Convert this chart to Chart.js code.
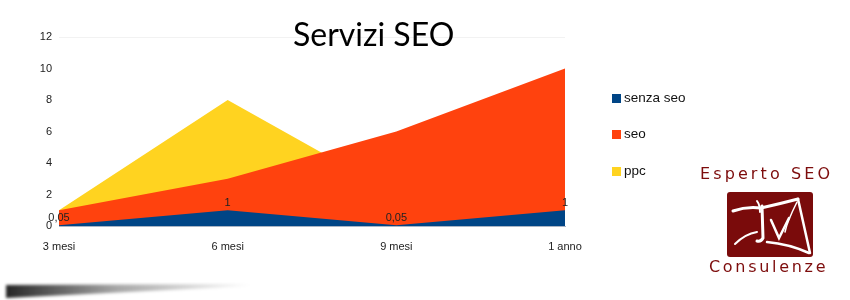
<!DOCTYPE html>
<html>
<head>
<meta charset="utf-8">
<script src="https://cdn.jsdelivr.net/npm/chart.js@4/dist/chart.umd.min.js"></script>
<style>
  html, body { margin: 0; padding: 0; background: #fff; }
  #wrap { position: relative; width: 850px; height: 300px; overflow: hidden; }
  #chart { position: absolute; left: 0; top: 0; }
  #title {
    position: absolute; left: 293px; top: 14px; width: 170px;
    font: 32px Lato, "Open Sans", sans-serif; color: #000; white-space: nowrap;
  }
  .leg { position: absolute; left: 612px; font: 13.5px "Liberation Sans", Arial, sans-serif; color: #111; }
  .leg i { display: inline-block; width: 9px; height: 9px; margin-right: 3px; vertical-align: -1px; }
  .logo-txt {
    position: absolute; font: 16px "DejaVu Sans", sans-serif; color: #7d0c0c;
    white-space: nowrap;
  }
</style>
</head>
<body>
<div id="wrap">
  <canvas id="chart" width="850" height="300"></canvas>
  <div id="title">Servizi SEO</div>
  <div id="legend"></div>
  <div class="logo-txt" style="left:700px; top:164px; letter-spacing:3.1px;">Esperto SEO</div>
  <svg style="position:absolute; left:727px; top:192px;" width="86" height="65" viewBox="0 0 86 65">
    <rect x="0" y="0" width="86" height="65" rx="3" fill="#7a0b0b"/>
    <g fill="none" stroke="#fff" stroke-linecap="round">
      <path d="M6 19 Q20 14 34 16 Q52 12 71 7" stroke-width="3"/>
      <path d="M30 9 Q33 13 33 20" stroke-width="2"/>
      <path d="M35 14 L36 46 Q34 50 30 49" stroke-width="3"/>
      <path d="M44 28 L52 46 L62 26" stroke-width="2.5"/>
      <path d="M71 7 Q76 30 83 61" stroke-width="2.5"/>
      <path d="M40 50 Q62 52 82 61" stroke-width="2.5"/>
      <path d="M8 52 Q18 42 30 40" stroke-width="2"/>
      <path d="M70 10 Q60 30 58 40" stroke-width="1.5"/>
    </g>
  </svg>
  <div class="logo-txt" style="left:709px; top:257px; letter-spacing:2.7px;">Consulenze</div>
  <svg style="position:absolute; left:0; top:276px;" width="300" height="24">
    <defs>
      <linearGradient id="sh" x1="0" x2="1" y1="0" y2="0">
        <stop offset="0" stop-color="#000" stop-opacity="0.85"/>
        <stop offset="0.45" stop-color="#000" stop-opacity="0.35"/>
        <stop offset="1" stop-color="#000" stop-opacity="0"/>
      </linearGradient>
      <filter id="bl"><feGaussianBlur stdDeviation="1.5"/></filter>
    </defs>
    <polygon points="6,9 250,8 250,10 6,22" fill="url(#sh)" filter="url(#bl)"/>
  </svg>
</div>
<script>
const categories = ["3 mesi", "6 mesi", "9 mesi", "1 anno"];
const seriesNames = ["senza seo", "seo", "ppc"];
const senzaSeo = [0.05, 1, 0.05, 1];
const seo = [1, 3, 6, 10];
const ppc = [1, 8, 2, 2];
const colors = ["#004586", "#ff420e", "#ffd320"];

// legend
const legend = document.getElementById("legend");
const legendTops = [90, 126, 163];
seriesNames.forEach((name, i) => {
  const d = document.createElement("div");
  d.className = "leg";
  d.style.top = legendTops[i] + "px";
  d.innerHTML = `<i style="background:${colors[i]}"></i>${name}`;
  legend.appendChild(d);
});

// value labels for "senza seo"
const valueLabels = {
  id: "valueLabels",
  afterDatasetsDraw(chart) {
    const c = chart.ctx;
    const meta = chart.getDatasetMeta(0);
    c.save();
    c.font = "11px 'Liberation Sans', Arial, sans-serif";
    c.fillStyle = "#222";
    c.textAlign = "center";
    c.textBaseline = "middle";
    meta.data.forEach((pt, i) => {
      const txt = String(senzaSeo[i]).replace(".", ",");
      c.fillText(txt, pt.x, pt.y - 7);
    });
    c.restore();
  }
};

const data = [senzaSeo, seo, ppc];

new Chart(document.getElementById("chart"), {
  type: "line",
  data: {
    labels: categories,
    datasets: data.map((vals, i) => ({
      label: seriesNames[i],
      data: vals,
      backgroundColor: colors[i],
      borderWidth: 0,
      pointRadius: 0,
      tension: 0,
      fill: "origin"
    }))
  },
  options: {
    responsive: false,
    animation: false,
    layout: { padding: { left: 0, right: 285, top: 37, bottom: 0 } },
    plugins: {
      legend: { display: false },
      tooltip: { enabled: false }
    },
    scales: {
      x: {
        offset: false,
        grid: { display: false },
        border: { color: "#aab4c4" },
        ticks: { color: "#222", font: { family: "'Liberation Sans', Arial", size: 11 }, padding: 6, maxRotation: 0 },
        afterFit: s => { s.height = 74; }
      },
      y: {
        min: 0, max: 12,
        grid: {
          drawTicks: false,
          color: ctx => ctx.tick && ctx.tick.value === 12 ? "#f2f2f2" : "rgba(0,0,0,0)"
        },
        border: { display: false },
        ticks: { stepSize: 2, color: "#222", font: { family: "'Liberation Sans', Arial", size: 11 }, padding: 7 },
        afterFit: s => { s.width = 59; }
      }
    }
  },
  plugins: [valueLabels]
});
</script>
</body>
</html>
